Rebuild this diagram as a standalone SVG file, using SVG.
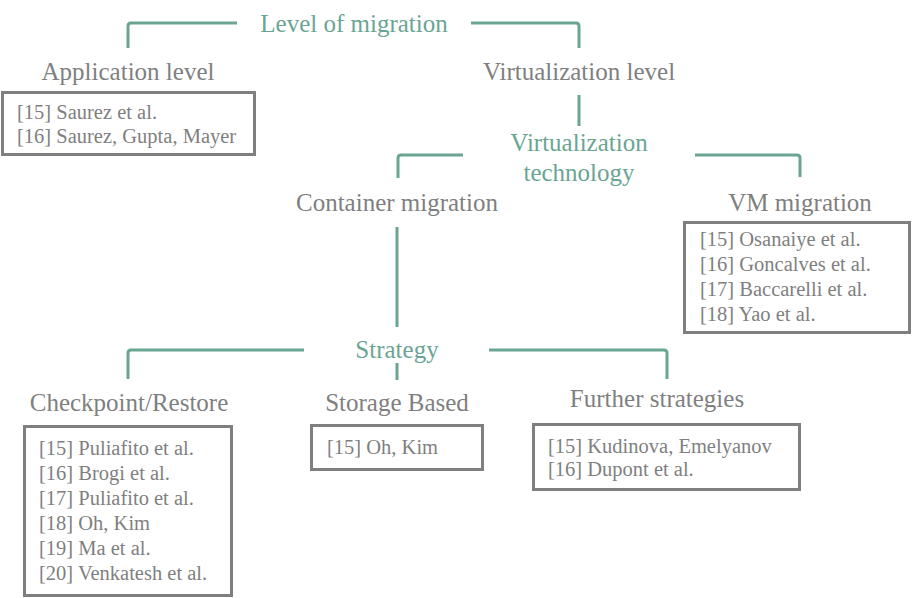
<svg xmlns="http://www.w3.org/2000/svg" width="912" height="598" viewBox="0 0 912 598">
<style>
text{font-family:'Liberation Serif','Times New Roman',serif}
.h{font-size:25px;fill:#7f7f7f;text-anchor:middle}
.t{font-size:25px;fill:#6aa593;text-anchor:middle}
.r{font-size:20.5px;fill:#7f7f7f}
.box{fill:#fff;stroke:#7f7f7f;stroke-width:3}
.c{fill:none;stroke:#6aa593;stroke-width:3;stroke-linejoin:round}
</style>
<rect width="912" height="598" fill="#fff"/>
<g id="connectors">
<path class="c" d="M237 23 H131 Q128 23 128 26 V48"/>
<path class="c" d="M471 23 H576 Q579 23 579 26 V48"/>
<path class="c" d="M579 95 V126"/>
<path class="c" d="M463 155 H401 Q398 155 398 158 V178"/>
<path class="c" d="M695 155 H797 Q800 155 800 158 V177"/>
<path class="c" d="M397 227 V327"/>
<path class="c" d="M304 350 H131 Q128 350 128 353 V379"/>
<path class="c" d="M489 350 H664 Q667 350 667 353 V379"/>
<path class="c" d="M397 363 V380"/>
</g>
<g id="level"><text class="t" x="354" y="32">Level of migration</text></g>
<g id="app-level"><text class="h" x="128" y="80">Application level</text></g>
<g id="app-refs"><rect class="box" x="2.5" y="92.5" width="252" height="62"/>
<text class="r" x="17" y="119">[15] Saurez et al.</text>
<text class="r" x="17" y="143">[16] Saurez, Gupta, Mayer</text></g>
<g id="virt-level"><text class="h" x="579" y="80">Virtualization level</text></g>
<g id="virt-tech"><text class="t" x="579" y="151">Virtualization</text><text class="t" x="579" y="181">technology</text></g>
<g id="container"><text class="h" x="397" y="211">Container migration</text></g>
<g id="vm"><text class="h" x="800" y="211">VM migration</text></g>
<g id="vm-refs"><rect class="box" x="684.5" y="222.5" width="225" height="110"/>
<text class="r" x="700" y="246">[15] Osanaiye et al.</text>
<text class="r" x="700" y="271">[16] Goncalves et al.</text>
<text class="r" x="700" y="296">[17] Baccarelli et al.</text>
<text class="r" x="700" y="321">[18] Yao et al.</text></g>
<g id="strategy"><text class="t" x="397" y="358">Strategy</text></g>
<g id="checkpoint"><text class="h" x="129" y="411">Checkpoint/Restore</text></g>
<g id="checkpoint-refs"><rect class="box" x="24.5" y="426.5" width="207" height="169"/>
<text class="r" x="39" y="455">[15] Puliafito et al.</text>
<text class="r" x="39" y="480">[16] Brogi et al.</text>
<text class="r" x="39" y="505">[17] Puliafito et al.</text>
<text class="r" x="39" y="530">[18] Oh, Kim</text>
<text class="r" x="39" y="555">[19] Ma et al.</text>
<text class="r" x="39" y="580">[20] Venkatesh et al.</text></g>
<g id="storage"><text class="h" x="397" y="411">Storage Based</text></g>
<g id="storage-refs"><rect class="box" x="311.5" y="425.5" width="171" height="44"/>
<text class="r" x="327" y="454">[15] Oh, Kim</text></g>
<g id="further"><text class="h" x="657" y="407">Further strategies</text></g>
<g id="further-refs"><rect class="box" x="533.5" y="424.5" width="266" height="65"/>
<text class="r" x="548" y="453">[15] Kudinova, Emelyanov</text>
<text class="r" x="548" y="476">[16] Dupont et al.</text></g>
</svg>
